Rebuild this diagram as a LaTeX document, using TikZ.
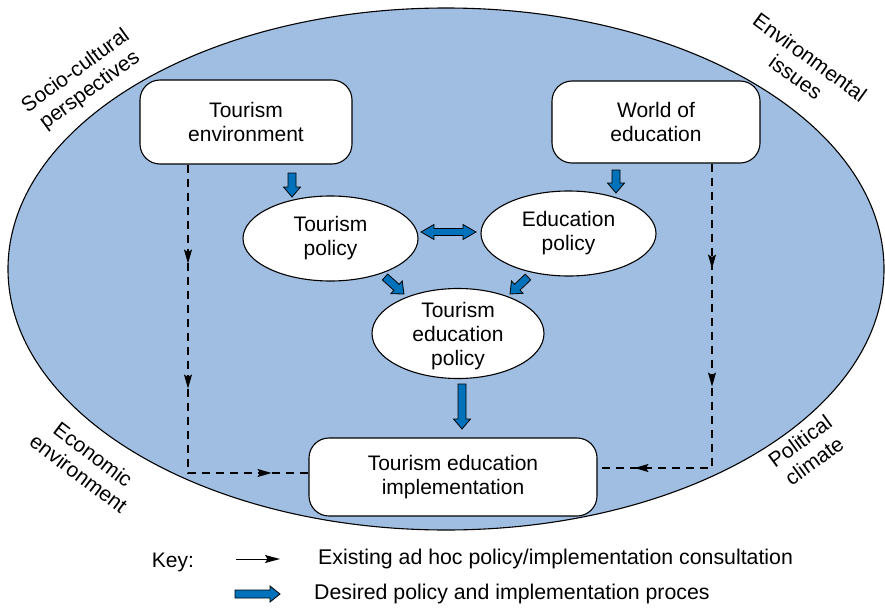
\documentclass[tikz,border=0pt]{standalone}
\usepackage{fontspec}
\setmainfont{Liberation Sans}
\usetikzlibrary{calc,decorations.markings,arrows.meta,shapes.geometric}
\definecolor{bgblue}{RGB}{160,190,225}
\definecolor{arrblue}{RGB}{0,114,188}
\tikzset{
  txt/.style={font=\fontsize{21}{24}\selectfont, align=center, inner sep=0pt},
  rbox/.style={draw=black, fill=white, line width=1.1pt, rounded corners=20pt, inner sep=0pt, txt},
  ellnode/.style={ellipse, draw=black, fill=white, line width=1.1pt, inner sep=0pt, txt},
  blockstyle/.style={fill=arrblue, draw=black, line width=0.8pt, line join=miter},
  dashpath/.style={draw=black, line width=1.1pt, dash pattern=on 8pt off 6pt,
     >={Stealth[length=14pt, width=8pt, inset=2.5pt]}}
}
\newcommand{\fatarrow}[5]{% from #1 to #2, shaft half #3, head half #4, head length #5
  \path ($(#2)!#5!(#1)$) coordinate (fac);
  \draw[blockstyle] ($(#1)!#3!90:(#2)$) -- ($(fac)!#3!90:(#2)$) -- ($(fac)!#4!90:(#2)$) -- (#2)
     -- ($(fac)!#4!-90:(#2)$) -- ($(fac)!#3!-90:(#2)$) -- ($(#1)!#3!-90:(#2)$) -- cycle;
}
\newcommand{\dblfatarrow}[5]{%
  \path ($(#1)!#5!(#2)$) coordinate (fad) ($(#2)!#5!(#1)$) coordinate (fac);
  \draw[blockstyle] (#1) -- ($(fad)!#4!90:(#2)$) -- ($(fad)!#3!90:(#2)$) -- ($(fac)!#3!90:(#2)$)
     -- ($(fac)!#4!90:(#2)$) -- (#2) -- ($(fac)!#4!-90:(#2)$) -- ($(fac)!#3!-90:(#2)$)
     -- ($(fad)!#3!-90:(#2)$) -- ($(fad)!#4!-90:(#2)$) -- cycle;
}
\begin{document}
\begin{tikzpicture}[x=1pt, y=-1pt]
\useasboundingbox (0,0) rectangle (885,607);

% background ellipse
\draw[fill=bgblue, line width=1.1pt] (446,269) ellipse [x radius=438pt, y radius=261pt];

% corner labels
\node[txt, rotate=36]  (sc) at (83,81)   {Socio-cultural\\perspectives};
\node[txt, rotate=-36] (ei) at (803,67)  {Environmental\\issues};
\node[txt, rotate=-37] (ee) at (86,464)  {Economic\\environment};
\node[txt, rotate=36]  (pc) at (807,451) {Political\\climate};

% main nodes
\node[rbox, minimum width=212pt, minimum height=84pt] (te) at (246,122) {Tourism\\environment};
\node[rbox, minimum width=208pt, minimum height=82pt] (we) at (656,122) {World of\\education};
\node[ellnode, minimum width=175pt, minimum height=85pt] (tp) at (330.5,238.5) {Tourism\\policy};
\node[ellnode, minimum width=175pt, minimum height=85pt] (ep) at (568.5,233.5) {Education\\policy};
\node[ellnode, minimum width=172pt, minimum height=90pt] (tep) at (458,333.5) {};
\node[txt] (teptext) at ($(tep.center)+(0,2.5)$) {Tourism\\education\\policy};
\node[rbox, minimum width=288pt, minimum height=78pt] (impl) at (453,477) {Tourism education\\implementation};

% dashed consultation paths
\coordinate (lc) at (188,473);
\coordinate (rc) at (712,468);
\draw[dashpath, postaction={decorate, decoration={markings,
    mark=at position 99pt with {\arrow{>}},
    mark=at position 224pt with {\arrow{>}},
    mark=at position 392pt with {\arrow{>}}}}]
  (te.south -| lc) -- (lc) -- (impl.west |- lc);
\draw[dashpath, postaction={decorate, decoration={markings,
    mark=at position 105pt with {\arrow{>}},
    mark=at position 223pt with {\arrow{>}},
    mark=at position 382pt with {\arrow{>}}}}]
  (we.south -| rc) -- (rc) -- (impl.east |- rc);

% block arrows
\coordinate (a1s) at (292,173); \coordinate (a1e) at (292,197);
\coordinate (a2s) at (616,170); \coordinate (a2e) at (616,193);
\coordinate (dbs) at (421,232); \coordinate (dbe) at (476,232);
\coordinate (d1s) at (385,277); \coordinate (d1e) at (404,294);
\coordinate (d2s) at (528,277); \coordinate (d2e) at (510,294);
\coordinate (a3s) at (462,384); \coordinate (a3e) at (462,429);
\fatarrow{a1s}{a1e}{4pt}{8.5pt}{10pt}
\fatarrow{a2s}{a2e}{4pt}{8.5pt}{10pt}
\dblfatarrow{dbs}{dbe}{3.5pt}{7.5pt}{13pt}
\fatarrow{d1s}{d1e}{4pt}{8.5pt}{10pt}
\fatarrow{d2s}{d2e}{4pt}{8.5pt}{10pt}
\fatarrow{a3s}{a3e}{4pt}{8.5pt}{10pt}

% key
\node[txt, anchor=center] (key) at (173,562) {Key:};
\coordinate (k1) at (236,559); \coordinate (k2) at (280,559);
\draw[line width=1pt, -{Stealth[length=15pt, width=8pt, inset=2.5pt]}] (k1) -- (k2);
\node[txt, anchor=west, font=\fontsize{21.3}{24}\selectfont] (k1t) at (318,559) {Existing ad hoc policy/implementation consultation};
\coordinate (k3) at (235,594); \coordinate (k4) at (280,594);
\fatarrow{k3}{k4}{4pt}{8pt}{10pt}
\node[txt, anchor=west, font=\fontsize{21.3}{24}\selectfont] (k2t) at (314,594) {Desired policy and implementation proces};
\end{tikzpicture}
\end{document}
